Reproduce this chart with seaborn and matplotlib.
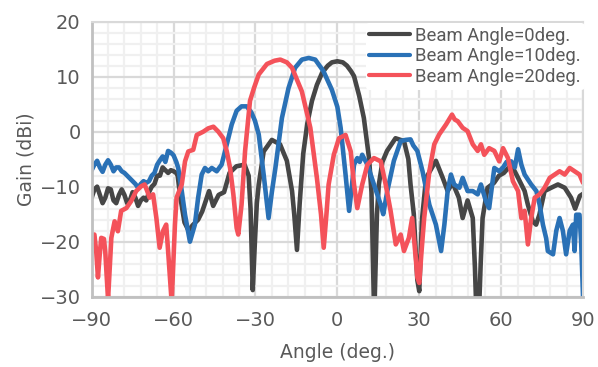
import numpy as np
import pandas as pd
import matplotlib
matplotlib.use("Agg")
import matplotlib.pyplot as plt
from matplotlib.ticker import FixedLocator
import seaborn as sns

# Beam Angle = 0 deg.
angle_0 = [-90, -89, -88, -87, -86, -85, -84, -83, -82, -81, -80, -79, -78, -77, -76,
           -75, -74, -73, -72, -71, -70, -69, -68, -67, -66, -65, -64, -63, -62, -61,
           -60, -59, -58.5, -57.5, -56, -54.5, -53, -51, -49.5, -47, -45.5, -43.5,
           -41.5, -39.5, -37, -34, -32.5, -31.8, -31, -30.2, -29.5, -28.8, -27, -24,
           -21, -18.5, -16.6, -15.8, -14.8, -13.8, -12.5, -11, -9.3, -7.5, -5.6, -3.5,
           -2, 0, 2, 3.5, 5, 6.1, 8, 9.7, 11.6, 12.5, 13.5, 14.5, 15.2, 16.5, 18.2,
           21.3, 24.4, 26, 26.8, 28, 28.7, 29.3, 30, 31, 32.5, 36.1, 38.6, 40.4, 42.2,
           44.5, 45.9, 47.7, 49.6, 50.4, 51, 51.8, 52.5, 53.2, 55, 57.4, 59.2, 61, 63.7,
           66.2, 68.6, 69.8, 71.6, 72.8, 74, 75.9, 78.3, 80.8, 83.3, 85.6, 87.1, 88.8, 90]
gain_0 = [-12, -10.5, -10, -11.5, -13, -12, -10.3, -10.5, -12.5, -13, -11.5, -10.5, -11.5,
          -13, -12.5, -11, -12, -13.5, -12.5, -12, -12.5, -11, -10, -9.5, -8, -8, -6.5,
          -7, -7.5, -7, -7.2, -7.5, -8, -12, -16.5, -18, -17, -16, -14.5, -10.8, -13.5,
          -11.5, -11, -7.5, -6.3, -6, -8, -14, -28.8, -20, -13, -9.6, -3.6, -1.5, -2.3,
          -5.3, -10.8, -15, -21.5, -13, -4, 1.5, 5.6, 8.5, 10.7, 12, 12.6, 12.8, 12.6,
          12, 11, 10.1, 6.5, 2.5, -4.8, -11, -34, -15, -9.6, -5.5, -3.5, -1.2, -1.7, -5,
          -9.6, -15, -21.7, -27, -29, -16, -8.4, -5.3, -8.4, -10.8, -9.3, -12, -15.7,
          -12.5, -15.7, -24.8, -34, -34, -24, -15.7, -10.2, -9.3, -8, -7.5, -6, -8.4,
          -10.8, -13.3, -16.3, -16.9, -15.1, -10.8, -10.2, -9.6, -10.2, -12, -14, -11.7,
          -11.3]

# Beam Angle = 10 deg.
angle_10 = [-90, -89, -88, -87, -86, -85, -84, -83, -82, -81, -80, -79, -78, -77, -76,
            -75, -74, -73, -72, -71, -70, -69, -68, -67, -66, -65, -64, -63, -62, -61,
            -60, -59, -58.3, -57, -55.8, -54, -52.2, -51, -49.7, -48.5, -47.3, -46,
            -44.2, -42.4, -40.5, -38.7, -36.9, -35.1, -33.2, -31.5, -30.2, -28.8, -27,
            -25.2, -24, -22.7, -20.3, -17.9, -15.5, -13, -10.5, -8.1, -5.1, -2, 0, 1.2,
            3, 4.3, 5.3, 6.1, 7.3, 8.2, 9.1, 11, 13.4, 15.9, 16.8, 18.3, 20.7, 23.2, 25,
            26.8, 27.8, 29.3, 31.2, 33.7, 36.1, 38, 39.2, 40.4, 41.6, 42.8, 44.7, 45.9,
            47.7, 49.6, 51.4, 52.6, 54.4, 55.6, 57.5, 59.3, 60.7, 62, 63.7, 65, 66.2,
            67.4, 68.6, 71, 72.9, 74.1, 75.3, 76.5, 77.1, 79, 80.2, 81.4, 82.6, 83.8,
            85.1, 86.3, 86.9, 87.5, 88.7, 89.3, 90]
gain_10 = [-7, -6, -5.3, -6.5, -7.3, -6, -5.2, -6, -7.2, -6.5, -6.5, -7.2, -7.5, -8, -8.5,
           -9, -9.5, -10.2, -9.5, -9, -9.3, -9, -8, -7.5, -6, -5.2, -4.5, -5.5, -3.5,
           -3.8, -4.3, -5.5, -6.6, -10.8, -15.1, -20, -16.9, -12, -7.8, -6.6, -7.2, -6.6,
           -7.2, -6, -2.3, 1.3, 3.8, 4.6, 4.6, 3.5, 2, -0.5, -7.8, -15.7, -11, -6.6, 2.5,
           7.9, 11.6, 13.1, 13.4, 13.1, 11, 7.6, 4.5, 0.7, -7.8, -14.4, -10, -6, -4.8,
           -5.5, -4.2, -6, -9.6, -13.3, -15, -10.8, -5.3, -1.7, -1.5, -1.4, -2.5, -3.5,
           -7.2, -13.3, -16.9, -21.7, -16.9, -10.8, -7.8, -9.6, -10.2, -8.4, -10.8,
           -10.8, -11.4, -9.6, -12.6, -13.9, -6.6, -7.2, -6.5, -5.5, -5.4, -6.5, -3.2, -6,
           -7.8, -9.6, -10.8, -13.3, -16.9, -19.4, -21.7, -22.3, -18, -15.7, -18, -22.3,
           -18, -16.9, -21.7, -15.1, -15.1, -20, -30]

# Beam Angle = 20 deg.
angle_20 = [-90, -89, -88.3, -87.7, -87, -86.5, -85.5, -85, -84, -83.3, -82.8, -81.6,
            -80.4, -79.2, -77.3, -75.5, -73.7, -71.8, -70.6, -69.5, -68.8, -67.5, -66.3,
            -65.1, -63.9, -62.7, -62, -60.7, -60.1, -59.5, -58.9, -57, -55.8, -54.6,
            -52.8, -51.5, -49.1, -47.3, -45.4, -43.6, -41.8, -40.5, -39.3, -38.1, -36.9,
            -36.3, -35.1, -33.8, -32, -30.5, -28.8, -25.8, -23, -20.9, -18.5, -16.6, -13,
            -9.9, -7.5, -6, -5, -4, -3.2, -1.3, 0.6, 3, 4.9, 6.1, 7.3, 9.1, 11, 13.4,
            15.9, 17.7, 19.5, 21.4, 23.2, 24.4, 26.2, 27.4, 28.7, 29.3, 30, 30.8, 31.8,
            33.7, 35.5, 37.3, 39.8, 42, 43, 44.1, 45.9, 47.7, 49.6, 51.4, 52.6, 53.8,
            55.6, 57.5, 59.3, 60.7, 62.5, 64.3, 66.2, 67.4, 68.6, 69.8, 71, 72.3, 74.1,
            75.9, 77.8, 79.6, 81.4, 83.3, 85.1, 86.9, 88.7, 90]
gain_20 = [-19.3, -18.7, -22, -26.5, -22, -19.3, -19.5, -22, -30.5, -24, -19.3, -16.3,
           -18.1, -14.4, -13.9, -12.6, -10.8, -9.9, -9.6, -11, -12, -11.4, -15.7, -21.1,
           -18.1, -16.9, -21.7, -31, -24, -16.9, -12, -9.6, -5.4, -3.6, -3.3, -0.6, 0,
           0.6, 0.9, 0, -1.2, -3.6, -6.6, -11.4, -17.5, -18.7, -13.3, -3.5, 5.6, 8, 10.4,
           12.3, 12.9, 13.1, 12.6, 11.6, 7.3, 0.7, -8.4, -15, -21.1, -15, -9.6, -4.2,
           -1.2, -0.6, -3.6, -9.6, -13.9, -9.6, -6, -4.8, -5.4, -9.6, -14.4, -20.5, -18.7,
           -21.7, -19.3, -15.7, -22.9, -26.5, -27.5, -22, -15.7, -7.2, -2.3, -0.5, 1.3,
           3.1, 2.2, 1.9, 0.7, 0.1, -2.3, -3.5, -2.3, -4.2, -3, -3.5, -5.4, -3, -4.8, -9,
           -10.8, -15.7, -14.4, -20.5, -15.7, -12, -11.4, -10.2, -8.4, -7.8, -7.2, -7.8,
           -6.6, -7.2, -7.8, -9.3]

labels = ["Beam Angle=0deg.", "Beam Angle=10deg.", "Beam Angle=20deg."]
colors = ["#464646", "#2a71b6", "#f4525a"]

df = pd.concat([
    pd.DataFrame({"angle": angle_0, "gain": gain_0, "beam": labels[0]}),
    pd.DataFrame({"angle": angle_10, "gain": gain_10, "beam": labels[1]}),
    pd.DataFrame({"angle": angle_20, "gain": gain_20, "beam": labels[2]}),
], ignore_index=True)

sns.set_theme(style="white")
plt.rcParams['font.family'] = ['DejaVu Sans']

fig = plt.figure(figsize=(5.98, 3.67), dpi=100)
ax = fig.add_axes([0.1533, 0.1916, 0.8217, 0.7494])

sns.lineplot(data=df, x="angle", y="gain", hue="beam", palette=colors,
             estimator=None, sort=False, linewidth=3.3, ax=ax)

ax.set_xlim(-90, 90)
ax.set_ylim(-30, 20)
ax.set_xticks(np.arange(-90, 91, 30))
ax.set_yticks(np.arange(-30, 21, 10))
# minor grid without the positions already taken by the major grid
xminor = [v for v in range(-90, 91, 6) if v % 30 != 0]
yminor = [v for v in range(-30, 21, 2) if v % 10 != 0]
ax.xaxis.set_minor_locator(FixedLocator(xminor))
ax.yaxis.set_minor_locator(FixedLocator(yminor))
ax.grid(which="minor", color="#f0f0f0", linewidth=1.6)
ax.grid(which="major", color="#d9d9d9", linewidth=1.6)
ax.set_axisbelow(True)
ax.tick_params(which="both", length=0)
ax.tick_params(axis="x", labelsize=14, labelcolor="#595959", pad=10)
ax.tick_params(axis="y", labelsize=14, labelcolor="#595959", pad=8)

for side in ["top", "right"]:
    ax.spines[side].set_color("#d9d9d9")
    ax.spines[side].set_linewidth(1.5)
for side in ["left", "bottom"]:
    ax.spines[side].set_color("#c0c0c0")
    ax.spines[side].set_linewidth(2)

ax.set_xlabel("Angle (deg.)", fontsize=13.5, color="#595959", labelpad=10)
ax.set_ylabel("Gain (dBi)", fontsize=13.5, color="#595959", labelpad=3)

leg = ax.legend(loc="upper right", bbox_to_anchor=(1.003, 0.995), borderaxespad=0,
                frameon=True, prop={"family": "Roboto", "size": 13.3},
                handlelength=2.2, handletextpad=0.28, labelspacing=0.14,
                borderpad=0.2, framealpha=1)
leg.get_frame().set_facecolor("white")
leg.get_frame().set_edgecolor("white")
leg.get_frame().set_linewidth(0)
for t in leg.get_texts():
    t.set_color("#595959")
for line in leg.get_lines():
    line.set_linewidth(3)

fig.savefig("out.png", dpi=100)
